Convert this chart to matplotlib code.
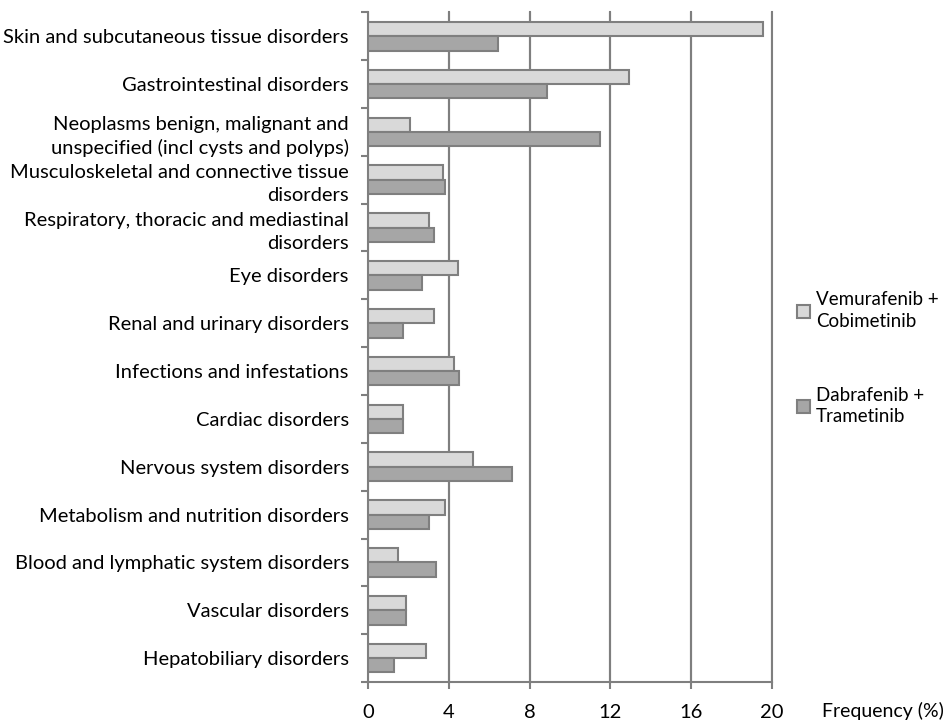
import matplotlib
matplotlib.use("Agg")
import matplotlib.pyplot as plt
import numpy as np
from matplotlib.patches import Patch

categories = [
    "Skin and subcutaneous tissue disorders",
    "Gastrointestinal disorders",
    "Neoplasms benign, malignant and\nunspecified (incl cysts and polyps)",
    "Musculoskeletal and connective tissue\ndisorders",
    "Respiratory, thoracic and mediastinal\ndisorders",
    "Eye disorders",
    "Renal and urinary disorders",
    "Infections and infestations",
    "Cardiac disorders",
    "Nervous system disorders",
    "Metabolism and nutrition disorders",
    "Blood and lymphatic system disorders",
    "Vascular disorders",
    "Hepatobiliary disorders",
]
vemurafenib_cobimetinib = [19.55, 12.9, 2.05, 3.7, 3.0, 4.47, 3.24, 4.26, 1.73, 5.17, 3.8, 1.5, 1.85, 2.87]
dabrafenib_trametinib = [6.45, 8.86, 11.5, 3.81, 3.24, 2.64, 1.73, 4.49, 1.73, 7.13, 3.0, 3.35, 1.85, 1.27]
series_names = ["Vemurafenib +\nCobimetinib", "Dabrafenib +\nTrametinib"]
x_ticks = [0, 4, 8, 12, 16, 20]

plt.rcParams['font.family'] = ['Lato', 'DejaVu Sans']

fig = plt.figure(figsize=(9.49, 7.24), dpi=100)
ax = fig.add_axes([0.388, 0.058, 0.8135 - 0.388, 0.983 - 0.058])

edge = "#7f7f7f"
light = "#d9d9d9"
dark = "#a6a6a6"
n = len(categories)
y = np.arange(n)
h = 0.3
ax.barh(y - h / 2, vemurafenib_cobimetinib, height=h, color=light, edgecolor=edge, linewidth=1.5, zorder=3)
ax.barh(y + h / 2, dabrafenib_trametinib, height=h, color=dark, edgecolor=edge, linewidth=1.5, zorder=3)

ax.set_ylim(n - 0.5, -0.5)
ax.set_xlim(0, 20)
ax.set_yticks(y)
ax.set_yticklabels(categories, fontsize=14.5, linespacing=1.4)
ax.set_yticks(np.arange(-0.5, n, 1.0), minor=True)
ax.tick_params(axis='y', which='major', length=0, pad=14)
ax.tick_params(axis='y', which='minor', length=5, width=1.5, color=edge, direction='out')
ax.set_xticks(x_ticks)
ax.set_xticklabels([str(v) for v in x_ticks], fontsize=14.5)
ax.tick_params(axis='x', which='major', length=5, width=1.5, color=edge, direction='out', pad=11)

for s in ['top', 'right']:
    ax.spines[s].set_visible(False)
for s in ['left', 'bottom']:
    ax.spines[s].set_color(edge)
    ax.spines[s].set_linewidth(1.5)

ax.grid(axis='x', color=edge, linewidth=1.5, zorder=0)
ax.set_axisbelow(True)
for xv in x_ticks[1:]:
    ax.axvline(xv, color=edge, linewidth=1.5, zorder=1, clip_on=False)

fig.text(0.866, 0.018, "Frequency (%)", fontsize=14, ha='left', va='center')

handles = [Patch(facecolor=light, edgecolor=edge, linewidth=1.5),
           Patch(facecolor=dark, edgecolor=edge, linewidth=1.5)]
leg = fig.legend(handles, series_names, loc='center left', bbox_to_anchor=(0.832, 0.505),
                 frameon=False, fontsize=13.5, handlelength=0.7, handleheight=0.7,
                 handletextpad=0.3, labelspacing=3.0, borderaxespad=0)
for t in leg.get_texts():
    t.set_linespacing(1.35)

fig.savefig("out.png", dpi=100)
